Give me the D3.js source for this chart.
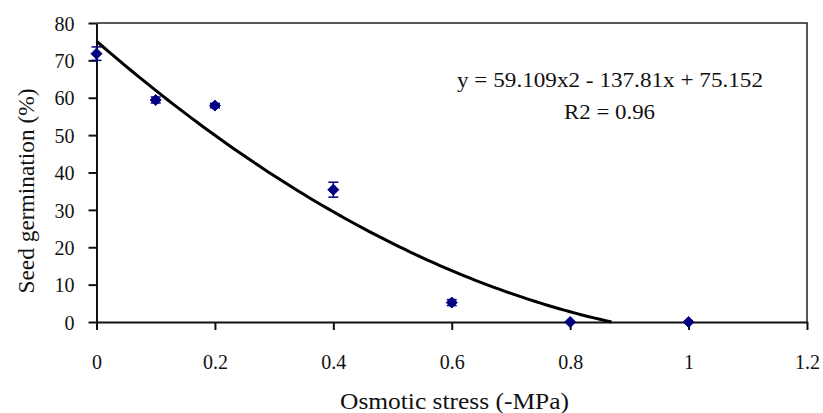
<!DOCTYPE html>
<html>
<head>
<meta charset="utf-8">
<script src="https://cdn.jsdelivr.net/npm/d3@7"></script>
<style>
  body { margin: 0; background: #fff; }
  svg text { font-family: "Liberation Serif", "Times New Roman", serif; fill: #111; }
</style>
</head>
<body>
<div class="visHolder"></div>
<script>
// ========================================
// Data
// ========================================
const stress = [0, 0.1, 0.2, 0.4, 0.6, 0.8, 1.0];          // Osmotic stress (-MPa)
const germination = [71.8, 59.4, 57.9, 35.4, 5.2, 0, 0];    // Seed germination (%)
const errors = [1.8, 0.8, 0.6, 2.0, 0.8, 0, 0];             // +/- error bar size
const xTicks = [0, 0.2, 0.4, 0.6, 0.8, 1, 1.2];
const yTicks = [0, 10, 20, 30, 40, 50, 60, 70, 80];
const fitCoef = [59.109, -137.81, 75.152];                 // a x^2 + b x + c
const fitLabel = 'y = 59.109x2 - 137.81x + 75.152';
const r2Label = 'R2 = 0.96';

// ========================================
// Dimensions
// ========================================
const
  width = 823,
  height = 413,
  plotLeft = 96.5,
  plotTop = 23,
  plotRight = 807,
  plotBottom = 322,
  navy = '#000080';

const svg = d3.select('.visHolder')
  .append('svg')
    .attr('width', width)
    .attr('height', height);

const xScale = d3.scaleLinear().domain([0, 1.2]).range([plotLeft, plotRight]);
const yScale = d3.scaleLinear().domain([0, 80]).range([plotBottom, plotTop]);

// frame on top and right
svg.append('path')
  .attr('d', `M${plotLeft},${plotTop}H${plotRight}V${plotBottom}`)
  .attr('fill', 'none')
  .attr('stroke', '#222')
  .attr('stroke-width', 1.5);

// ========================================
// Axes
// ========================================
const xAxis = svg.append('g')
  .attr('transform', `translate(0,${plotBottom})`)
  .call(d3.axisBottom(xScale).tickValues(xTicks).tickFormat(d3.format('~g')).tickSize(8).tickSizeOuter(0).tickPadding(25));

const yAxis = svg.append('g')
  .attr('transform', `translate(${plotLeft},0)`)
  .call(d3.axisLeft(yScale).tickValues(yTicks).tickSize(8).tickSizeOuter(0).tickPadding(14));

[xAxis, yAxis].forEach(ax => {
  ax.select('.domain').attr('stroke', '#111').attr('stroke-width', 2);
  ax.selectAll('.tick line').attr('stroke', '#111').attr('stroke-width', 2);
  ax.selectAll('.tick text')
    .style('font-size', '20px')
    .style('font-family', '"Liberation Serif", serif')
    .attr('fill', '#111');
});
yAxis.selectAll('.tick text').attr('dy', '0.36em');

// axis titles
svg.append('text')
  .attr('x', 454.5)
  .attr('y', 409)
  .attr('text-anchor', 'middle')
  .attr('textLength', 229)
  .attr('lengthAdjust', 'spacingAndGlyphs')
  .style('font-size', '23px')
  .text('Osmotic stress (-MPa)');

svg.append('text')
  .attr('transform', 'translate(34,191) rotate(-90)')
  .attr('text-anchor', 'middle')
  .attr('textLength', 205)
  .attr('lengthAdjust', 'spacingAndGlyphs')
  .style('font-size', '23px')
  .text('Seed germination (%)');

// ========================================
// Trend line from the fitted equation
// ========================================
const fit = x => fitCoef[0] * x * x + fitCoef[1] * x + fitCoef[2];
const root = (-fitCoef[1] - Math.sqrt(fitCoef[1] ** 2 - 4 * fitCoef[0] * fitCoef[2])) / (2 * fitCoef[0]);
const curveX = d3.range(0, root, 0.01).concat([root]);

svg.append('path')
  .datum(curveX)
  .attr('fill', 'none')
  .attr('stroke', '#000')
  .attr('stroke-width', 3)
  .attr('d', d3.line().x(d => xScale(d)).y(d => yScale(Math.max(0, fit(d)))));

// ========================================
// Error bars and markers
// ========================================
const points = stress.map((s, i) => ({x: s, y: germination[i], e: errors[i]}));

const bars = svg.append('g')
  .selectAll('g')
  .data(points.filter(d => d.e > 0))
  .enter()
  .append('g')
    .attr('stroke', navy)
    .attr('stroke-width', 1.5);

bars.append('line')
  .attr('x1', d => xScale(d.x)).attr('x2', d => xScale(d.x))
  .attr('y1', d => yScale(d.y + d.e)).attr('y2', d => yScale(d.y - d.e));
bars.append('line')
  .attr('x1', d => xScale(d.x) - 5).attr('x2', d => xScale(d.x) + 5)
  .attr('y1', d => yScale(d.y + d.e)).attr('y2', d => yScale(d.y + d.e));
bars.append('line')
  .attr('x1', d => xScale(d.x) - 5).attr('x2', d => xScale(d.x) + 5)
  .attr('y1', d => yScale(d.y - d.e)).attr('y2', d => yScale(d.y - d.e));

svg.append('g')
  .selectAll('path')
  .data(points)
  .enter()
  .append('path')
    .attr('transform', d => `translate(${xScale(d.x)},${yScale(d.y)})`)
    .attr('d', 'M0,-5.5L5.5,0L0,5.5L-5.5,0Z')
    .attr('fill', navy)
    .attr('stroke', navy)
    .attr('stroke-width', 1)
    .attr('stroke-linejoin', 'round');

// ========================================
// Equation text
// ========================================
svg.append('text')
  .attr('x', 610)
  .attr('y', 87)
  .attr('text-anchor', 'middle')
  .attr('textLength', 306)
  .attr('lengthAdjust', 'spacingAndGlyphs')
  .style('font-size', '21px')
  .text(fitLabel);

svg.append('text')
  .attr('x', 609.5)
  .attr('y', 119)
  .attr('text-anchor', 'middle')
  .attr('textLength', 91)
  .attr('lengthAdjust', 'spacingAndGlyphs')
  .style('font-size', '21px')
  .text(r2Label);
</script>
</body>
</html>
